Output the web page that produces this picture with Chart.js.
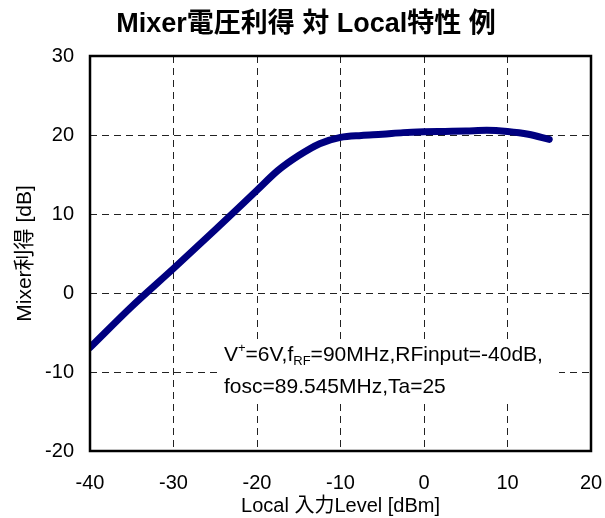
<!DOCTYPE html>
<html><head><meta charset="utf-8">
<script src="https://cdn.jsdelivr.net/npm/chart.js@4/dist/chart.umd.min.js"></script>
<style>html,body{margin:0;padding:0;background:#fff;}canvas{display:block;}</style>
</head><body>
<canvas id="c" width="605" height="518"></canvas>
<script>
const titleText = "Mixer電圧利得 対 Local特性 例";
const xTitle = "Local 入力Level [dBm]";
const yTitle = "Mixer利得 [dB]";
const localLevel = [-40, -35, -30, -25, -20, -17.5, -15, -12.5, -10, -7.5, -5, -2.5, 0, 2.5, 5, 7.5, 10, 12.5, 15];
const mixerGain = [-6.9, -1.7, 3.1, 8.0, 13.0, 15.5, 17.4, 18.9, 19.7, 19.95, 20.1, 20.3, 20.4, 20.45, 20.5, 20.6, 20.45, 20.1, 19.45];
const xTicks = [-40, -30, -20, -10, 0, 10, 20];
const yTicks = [-20, -10, 0, 10, 20, 30];
const noteLine2 = "fosc=89.545MHz,Ta=25";

const FONT = '"Liberation Sans", Arial, "Noto Sans CJK JP", sans-serif';

const framePlugin = {
  id: 'frame',
  afterDatasetsDraw(chart) {
    const {ctx, chartArea: a} = chart;
    ctx.save();
    // title
    ctx.fillStyle = '#000';
    ctx.font = 'bold 27px ' + FONT;
    ctx.textAlign = 'center';
    ctx.textBaseline = 'middle';
    ctx.fillText(titleText, 306, 25);
    ctx.textAlign = 'left';
    // annotation box
    const bx = a.left + 127, by = a.top + 284;
    ctx.fillStyle = '#fff';
    ctx.fillRect(bx, by, 342, 62);
    ctx.fillStyle = '#000';
    ctx.textBaseline = 'alphabetic';
    const fs = 21;
    let x = bx + 7, y = by + 21;
    const seg = (t, size, dy) => {
      ctx.font = size + 'px ' + FONT;
      ctx.fillText(t, x, y + dy);
      x += ctx.measureText(t).width;
    };
    seg('V', fs, 0);
    seg('+', 13, -9);
    seg('=6V,f', fs, 0);
    seg('RF', 13, 4);
    seg('=90MHz,RFinput=-40dB,', fs, 0);
    ctx.font = fs + 'px ' + FONT;
    ctx.fillText(noteLine2, bx + 7, by + 53);
    // frame
    ctx.strokeStyle = '#000';
    ctx.lineWidth = 2.5;
    ctx.strokeRect(a.left, a.top, a.right - a.left, a.bottom - a.top);
    ctx.restore();
  }
};

new Chart(document.getElementById('c'), {
  type: 'line',
  data: {
    datasets: [{
      data: localLevel.map((v, i) => ({x: v, y: mixerGain[i]})),
      borderColor: '#000080',
      borderWidth: 7,
      pointRadius: 0,
      cubicInterpolationMode: 'monotone',
      borderCapStyle: 'round',
      borderJoinStyle: 'round',
      fill: false
    }]
  },
  options: {
    responsive: false,
    animation: false,
    devicePixelRatio: 1,
    layout: {padding: {left: 0, right: 14, top: 56, bottom: 0}},
    plugins: {
      legend: {display: false},
      tooltip: {enabled: false},
      title: {display: false}
    },
    scales: {
      x: {
        type: 'linear',
        min: -40, max: 20,
        afterBuildTicks: s => { s.ticks = xTicks.map(v => ({value: v})); },
        afterFit: s => { s.height = 67; s.paddingLeft = 0; s.paddingRight = 0; },
        ticks: {color: '#000', padding: 20, font: {family: FONT, size: 20}, maxRotation: 0},
        grid: {color: '#222', lineWidth: 1, drawTicks: false},
        border: {display: false, dash: [7, 5]},
        title: {display: true, text: xTitle, color: '#000', font: {family: FONT, size: 20}, padding: {top: 0, bottom: 0}}
      },
      y: {
        type: 'linear',
        min: -20, max: 30,
        afterBuildTicks: s => { s.ticks = yTicks.map(v => ({value: v})); },
        afterFit: s => { s.width = 90; s.paddingTop = 0; s.paddingBottom = 0; },
        ticks: {color: '#000', padding: 16, font: {family: FONT, size: 20}},
        grid: {color: '#222', lineWidth: 1, drawTicks: false},
        border: {display: false, dash: [7, 5]},
        title: {display: true, text: yTitle, color: '#000', font: {family: FONT, size: 21}, padding: {top: 13, bottom: 0}}
      }
    }
  },
  plugins: [framePlugin]
});
</script>
</body></html>
